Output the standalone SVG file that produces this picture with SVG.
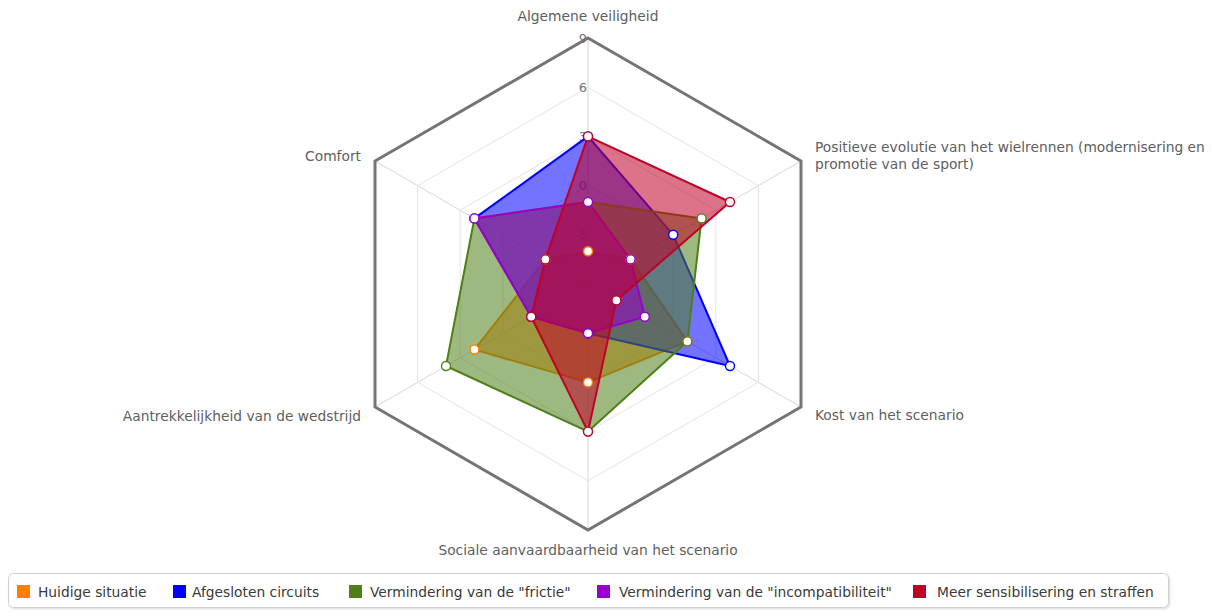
<svg xmlns="http://www.w3.org/2000/svg" width="1212" height="612" viewBox="0 0 1212 612">
  <defs>
    <style>
      .grid { fill: none; stroke: #e4e4e4; stroke-width: 1; }
      .spoke { stroke: #d6d6d6; stroke-width: 1; }
      .frame { fill: none; stroke: #747474; stroke-width: 3; stroke-linejoin: miter; }
      .ytick { font-family: "DejaVu Sans", Verdana, sans-serif; font-size: 13px; fill: #777777; text-anchor: end; }
      .axis { font-family: "DejaVu Sans", Verdana, sans-serif; font-size: 13.8px; fill: #606060; }
      .legend { font-family: "DejaVu Sans", Verdana, sans-serif; font-size: 13.8px; fill: #3a3a3a; }
      .area { stroke-width: 2; stroke-linejoin: round; fill-opacity: 0.55; }
      .pt { fill: #ffffff; stroke-width: 1.4; }
      .s-orange { fill: #ff7f00; stroke: #ff7f00; }
      .s-blue { fill: #0000ff; stroke: #0000ff; }
      .s-green { fill: #4f7f17; stroke: #4f7f17; }
      .s-purple { fill: #9900cc; stroke: #9900cc; }
      .s-red { fill: #c00026; stroke: #c00026; }
      .m-orange { stroke: #ff7f00; }
      .m-blue { stroke: #0000ff; }
      .m-green { stroke: #4f7f17; }
      .m-purple { stroke: #9900cc; }
      .m-red { stroke: #c00026; }
    </style>
    <filter id="legendShadow" x="-5%" y="-30%" width="110%" height="170%">
      <feDropShadow dx="1" dy="1" stdDeviation="1" flood-color="#000" flood-opacity="0.15"/>
    </filter>
  </defs>

  <rect width="1212" height="612" fill="#ffffff"/>

  <!-- radial grid: centre (588,284), 16.4 px per unit, scale -6 .. 9 -->
  <g id="grid">
    <line class="spoke" x1="588" y1="284" x2="588" y2="38"/>
    <line class="spoke" x1="588" y1="284" x2="801" y2="161"/>
    <line class="spoke" x1="588" y1="284" x2="801" y2="407"/>
    <line class="spoke" x1="588" y1="284" x2="588" y2="530"/>
    <line class="spoke" x1="588" y1="284" x2="375" y2="407"/>
    <line class="spoke" x1="588" y1="284" x2="375" y2="161"/>
    <polygon class="grid" points="588,234.8 630.6,259.4 630.6,308.6 588,333.2 545.4,308.6 545.4,259.4"/>
    <polygon class="grid" points="588,185.6 673.2,234.8 673.2,333.2 588,382.4 502.8,333.2 502.8,234.8"/>
    <polygon class="grid" points="588,136.4 715.8,210.2 715.8,357.8 588,431.6 460.2,357.8 460.2,210.2"/>
    <polygon class="grid" points="588,87.2 758.4,185.6 758.4,382.4 588,480.8 417.6,382.4 417.6,185.6"/>
  </g>

  <g id="y-axis-labels">
    <text class="ytick" x="587" y="288">-6</text>
    <text class="ytick" x="587" y="239">-3</text>
    <text class="ytick" x="587" y="190">0</text>
    <text class="ytick" x="587" y="141">3</text>
    <text class="ytick" x="587" y="92">6</text>
    <text class="ytick" x="587" y="43">9</text>
  </g>

  <polygon id="frame" class="frame" points="588,38 801,161 801,407 588,530 375,407 375,161"/>

  <g id="axis-labels">
    <text class="axis" x="588" y="21" text-anchor="middle">Algemene veiligheid</text>
    <text class="axis" x="815" y="152">Positieve evolutie van het wielrennen (modernisering en</text>
    <text class="axis" x="815" y="169">promotie van de sport)</text>
    <text class="axis" x="815" y="420">Kost van het scenario</text>
    <text class="axis" x="588" y="555" text-anchor="middle">Sociale aanvaardbaarheid van het scenario</text>
    <text class="axis" x="361" y="421" text-anchor="end">Aantrekkelijkheid van de wedstrijd</text>
    <text class="axis" x="361" y="161" text-anchor="end">Comfort</text>
  </g>

  <!-- series areas -->
  <g id="series-huidige-situatie">
    <polygon class="area s-orange" points="588,251.2 630.6,259.4 687.4,341.4 588,382.4 474.4,349.6 545.4,259.4"/>
  </g>
  <g id="series-afgesloten-circuits">
    <polygon class="area s-blue" points="588,136.4 673.2,234.8 730,366 588,333.2 531.2,316.8 474.4,218.4"/>
  </g>
  <g id="series-frictie">
    <polygon class="area s-green" points="588,202 701.6,218.4 687.4,341.4 588,431.6 446,366 474.4,218.4"/>
  </g>
  <g id="series-incompatibiliteit">
    <polygon class="area s-purple" points="588,202 630.6,259.4 644.8,316.8 588,333.2 531.2,316.8 474.4,218.4"/>
  </g>
  <g id="series-sensibilisering">
    <polygon class="area s-red" points="588,136.4 730,202 616.4,300.4 588,431.6 531.2,316.8 545.4,259.4"/>
  </g>

  <!-- point markers, drawn above all areas -->
  <g id="markers">
    <g class="m-orange">
      <circle class="pt" cx="588" cy="251.2" r="4.5"/>
      <circle class="pt" cx="630.6" cy="259.4" r="4.5"/>
      <circle class="pt" cx="687.4" cy="341.4" r="4.5"/>
      <circle class="pt" cx="588" cy="382.4" r="4.5"/>
      <circle class="pt" cx="474.4" cy="349.6" r="4.5"/>
      <circle class="pt" cx="545.4" cy="259.4" r="4.5"/>
    </g>
    <g class="m-blue">
      <circle class="pt" cx="588" cy="136.4" r="4.5"/>
      <circle class="pt" cx="673.2" cy="234.8" r="4.5"/>
      <circle class="pt" cx="730" cy="366" r="4.5"/>
      <circle class="pt" cx="588" cy="333.2" r="4.5"/>
      <circle class="pt" cx="531.2" cy="316.8" r="4.5"/>
      <circle class="pt" cx="474.4" cy="218.4" r="4.5"/>
    </g>
    <g class="m-green">
      <circle class="pt" cx="588" cy="202" r="4.5"/>
      <circle class="pt" cx="701.6" cy="218.4" r="4.5"/>
      <circle class="pt" cx="687.4" cy="341.4" r="4.5"/>
      <circle class="pt" cx="588" cy="431.6" r="4.5"/>
      <circle class="pt" cx="446" cy="366" r="4.5"/>
      <circle class="pt" cx="474.4" cy="218.4" r="4.5"/>
    </g>
    <g class="m-purple">
      <circle class="pt" cx="588" cy="202" r="4.5"/>
      <circle class="pt" cx="630.6" cy="259.4" r="4.5"/>
      <circle class="pt" cx="644.8" cy="316.8" r="4.5"/>
      <circle class="pt" cx="588" cy="333.2" r="4.5"/>
      <circle class="pt" cx="531.2" cy="316.8" r="4.5"/>
      <circle class="pt" cx="474.4" cy="218.4" r="4.5"/>
    </g>
    <g class="m-red">
      <circle class="pt" cx="588" cy="136.4" r="4.5"/>
      <circle class="pt" cx="730" cy="202" r="4.5"/>
      <circle class="pt" cx="616.4" cy="300.4" r="4.5"/>
      <circle class="pt" cx="588" cy="431.6" r="4.5"/>
      <circle class="pt" cx="531.2" cy="316.8" r="4.5"/>
      <circle class="pt" cx="545.4" cy="259.4" r="4.5"/>
    </g>
  </g>

  <g id="legend">
    <rect x="8.5" y="573.5" width="1160" height="34" rx="5" fill="#ffffff" stroke="#cfcfcf" filter="url(#legendShadow)"/>
    <rect x="17" y="585" width="13" height="13" fill="#ff7f00"/>
    <text class="legend" x="38" y="597">Huidige situatie</text>
    <rect x="173" y="585" width="13" height="13" fill="#0000ff"/>
    <text class="legend" x="192" y="597">Afgesloten circuits</text>
    <rect x="349" y="585" width="13" height="13" fill="#4f7f17"/>
    <text class="legend" x="370" y="597">Vermindering van de "frictie"</text>
    <rect x="597" y="585" width="13" height="13" fill="#9900cc"/>
    <text class="legend" x="619" y="597">Vermindering van de "incompatibiliteit"</text>
    <rect x="913" y="585" width="13" height="13" fill="#c00026"/>
    <text class="legend" x="937" y="597">Meer sensibilisering en straffen</text>
  </g>
</svg>
